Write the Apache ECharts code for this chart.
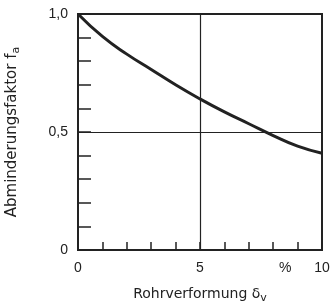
<!DOCTYPE html>
<html>
<head>
<meta charset="utf-8">
<script src="https://cdn.jsdelivr.net/npm/echarts@6/dist/echarts.min.js"></script>
<style>
  html, body { margin: 0; padding: 0; background: #fff; }
  #chart { width: 330px; height: 302px; }
</style>
</head>
<body>
<div id="chart"></div>
<script>
// Rohrverformung in %
const deformation = [0, 1, 2, 3, 4, 5, 6, 7, 8, 9, 10];
// Abminderungsfaktor fa
const reduction = [1.0, 0.905, 0.83, 0.765, 0.70, 0.64, 0.585, 0.535, 0.485, 0.44, 0.41];
// beschriftete Ticks
const yTickLabels = { 0: '0', 0.5: '0,5', 1: '1,0' };
const xTickLabels = { 0: '0', 5: '5', 10: '10' };
const guideX = 5;
const guideY = 0.5;

const ink = '#222';
const font = 'Liberation Sans, Arial, sans-serif';
const nameFont = 'DejaVu Sans, sans-serif';

const chart = echarts.init(document.getElementById('chart'));

const lookup = (map, v) => {
    for (const k in map) {
        if (Math.abs(Number(k) - v) < 1e-6) return map[k];
    }
    return '';
};

// Index tiefgestellt
const subStyle = { fontSize: 11, fontFamily: nameFont, color: ink, verticalAlign: 'bottom', lineHeight: 20 };

chart.setOption({
    animation: false,
    grid: {
        left: 78, right: 8, top: 14, bottom: 52,
        outerBoundsMode: 'none', containLabel: false,
        show: true, borderColor: ink, borderWidth: 2
    },
    xAxis: {
        type: 'value', min: 0, max: 10, interval: 1,
        axisLine: { lineStyle: { color: ink, width: 2 } },
        axisTick: { inside: true, length: 8, lineStyle: { color: ink, width: 1.5 } },
        splitLine: { show: false },
        axisLabel: {
            color: ink, fontFamily: font, fontSize: 14, margin: 11,
            formatter: v => lookup(xTickLabels, v)
        },
        name: 'Rohrverformung δ{sub|v}',
        nameLocation: 'middle', nameGap: 34,
        nameTextStyle: {
            color: ink, fontFamily: nameFont, fontSize: 14, lineHeight: 20,
            rich: { sub: subStyle }
        }
    },
    yAxis: {
        type: 'value', min: 0, max: 1, interval: 0.1,
        axisLine: { lineStyle: { color: ink, width: 2 } },
        axisTick: { inside: true, length: 13, lineStyle: { color: ink, width: 1.5 } },
        splitLine: { show: false },
        axisLabel: {
            color: ink, fontFamily: font, fontSize: 14, margin: 10,
            formatter: v => lookup(yTickLabels, v)
        },
        name: 'Abminderungsfaktor f{sub|a}',
        nameLocation: 'middle', nameGap: 56,
        nameTextStyle: {
            color: ink, fontFamily: nameFont, fontSize: 15, lineHeight: 20,
            rich: { sub: subStyle }
        }
    },
    graphic: [{
        type: 'text', left: 279, top: 261,
        style: { text: '%', fill: ink, font: '14px ' + font }
    }],
    series: [{
        type: 'line',
        data: deformation.map((x, i) => [x, reduction[i]]),
        smooth: true,
        symbol: 'none',
        lineStyle: { color: ink, width: 3 },
        markLine: {
            silent: true, symbol: 'none',
            label: { show: false },
            lineStyle: { color: ink, type: 'solid', width: 1.2 },
            data: [{ xAxis: guideX }, { yAxis: guideY }]
        }
    }]
});
</script>
</body>
</html>
